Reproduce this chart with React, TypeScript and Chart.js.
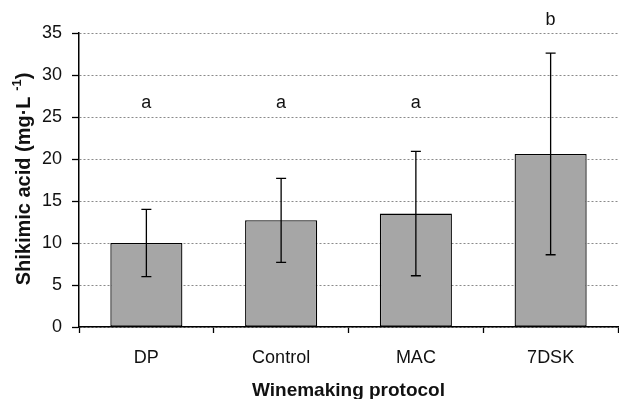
import React, { useEffect, useRef } from "react";
import { Chart, registerables } from "chart.js";

Chart.register(...registerables);

const categories = ["DP", "Control", "MAC", "7DSK"];
const means = [10.0, 12.7, 13.5, 20.6];
const errors = [4.0, 5.0, 7.4, 12.0];
const letters = ["a", "a", "a", "b"];
const letterY = [26.1, 26.1, 26.1, 35.9];
const yTicks = [0, 5, 10, 15, 20, 25, 30, 35];
const xTitle = "Winemaking protocol";
const yTitleMain = "Shikimic acid (mg·L";
const yTitleSup = "-1";
const yTitleEnd = ")";

const FONT = '"Liberation Sans", Arial, sans-serif';

const overlayPlugin = {
  id: "overlay",
  afterDatasetsDraw(chart: any) {
    const ctx = chart.ctx;
    const meta = chart.getDatasetMeta(0);
    const ys = chart.scales.y;
    ctx.save();
    ctx.strokeStyle = "#000";
    ctx.lineWidth = 1.3;
    meta.data.forEach((bar: any, i: number) => {
      const x = bar.x;
      const yTop = ys.getPixelForValue(means[i] + errors[i]);
      const yBot = ys.getPixelForValue(means[i] - errors[i]);
      ctx.beginPath();
      ctx.moveTo(x, yTop);
      ctx.lineTo(x, yBot);
      ctx.moveTo(x - 5, yTop);
      ctx.lineTo(x + 5, yTop);
      ctx.moveTo(x - 5, yBot);
      ctx.lineTo(x + 5, yBot);
      ctx.stroke();
    });
    ctx.fillStyle = "#111";
    ctx.font = `18px ${FONT}`;
    ctx.textAlign = "center";
    ctx.textBaseline = "alphabetic";
    meta.data.forEach((bar: any, i: number) => {
      ctx.fillText(letters[i], bar.x, ys.getPixelForValue(letterY[i]));
    });
    ctx.restore();
  },
  afterDraw(chart: any) {
    const ctx = chart.ctx;
    const cy = 179;
    ctx.save();
    ctx.translate(24, cy);
    ctx.rotate(-Math.PI / 2);
    ctx.fillStyle = "#111";
    ctx.textBaseline = "middle";
    const mainFont = `bold 20px ${FONT}`;
    const supFont = `bold 13px ${FONT}`;
    ctx.font = mainFont;
    const wMain = ctx.measureText(yTitleMain + " ").width;
    const wEnd = ctx.measureText(yTitleEnd).width;
    ctx.font = supFont;
    const wSup = ctx.measureText(yTitleSup).width;
    const total = wMain + wSup + wEnd;
    let x = -total / 2;
    ctx.textAlign = "left";
    ctx.font = mainFont;
    ctx.fillText(yTitleMain + " ", x, 0);
    x += wMain;
    ctx.font = supFont;
    ctx.fillText(yTitleSup, x, -7);
    x += wSup;
    ctx.font = mainFont;
    ctx.fillText(yTitleEnd, x, 0);
    ctx.restore();
  },
};

export default function App() {
  const ref = useRef<HTMLCanvasElement | null>(null);
  useEffect(() => {
    document.body.style.margin = "0";
    const chart = new Chart(ref.current as HTMLCanvasElement, {
      type: "bar",
      data: {
        labels: categories,
        datasets: [
          {
            data: means,
            backgroundColor: "#a6a6a6",
            borderColor: "#000",
            borderWidth: 1.3,
            borderSkipped: false,
            categoryPercentage: 1,
            barPercentage: 0.535,
          },
        ],
      },
      options: {
        animation: false,
        responsive: true,
        maintainAspectRatio: false,
        layout: { padding: { top: 33, right: 1, left: 0, bottom: 0 } },
        plugins: { legend: { display: false }, tooltip: { enabled: false } },
        scales: {
          x: {
            afterFit(scale: any) {
              scale.height = 72;
            },
            grid: {
              display: true,
              drawOnChartArea: false,
              drawTicks: true,
              tickLength: 6,
              tickColor: "#000",
              tickWidth: 1.3,
              offset: true,
            },
            border: { display: true, color: "#000", width: 1.5 },
            ticks: {
              color: "#111",
              font: { family: FONT, size: 18 },
              padding: 14,
              maxRotation: 0,
            },
            title: {
              display: true,
              text: xTitle,
              color: "#111",
              font: { family: FONT, size: 19, weight: "bold", lineHeight: 0.85 },
              padding: 0,
            },
          },
          y: {
            min: 0,
            max: 35,
            afterFit(scale: any) {
              scale.width = 79;
            },
            afterBuildTicks(scale: any) {
              scale.ticks = yTicks.map((v) => ({ value: v }));
            },
            grid: {
              color: "#8a8a8a",
              lineWidth: 1,
              drawTicks: true,
              tickLength: 7,
              tickColor: "#000",
              tickWidth: 1.3,
              tickBorderDash: [],
            },
            border: { display: true, color: "#000", width: 1.5, dash: [2, 2] },
            ticks: {
              color: "#111",
              font: { family: FONT, size: 18 },
              padding: 10,
            },
          },
        },
      },
      plugins: [overlayPlugin],
    } as any);
    return () => chart.destroy();
  }, []);
  return (
    <div style={{ position: "fixed", left: 0, top: 0, width: 619, height: 399 }}>
      <canvas ref={ref} />
    </div>
  );
}
